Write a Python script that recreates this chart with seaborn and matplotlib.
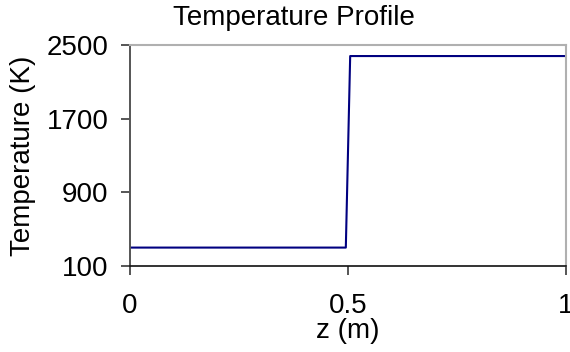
import matplotlib
matplotlib.use("Agg")
import matplotlib.pyplot as plt
import seaborn as sns
import pandas as pd

z = [0.0, 0.495, 0.505, 1.0]
temperature = [300, 300, 2380, 2380]
xticks = [0, 0.5, 1]
xticklabels = ["0", "0.5", "1"]
yticks = [100, 900, 1700, 2500]

sns.set_style("white")
plt.rcParams['font.family'] = ['Liberation Sans', 'DejaVu Sans']
plt.rcParams['text.color'] = 'black'
plt.rcParams['axes.labelcolor'] = 'black'
plt.rcParams['xtick.color'] = 'black'
plt.rcParams['ytick.color'] = 'black'

W, H = 570, 352
df = pd.DataFrame({"z": z, "T": temperature})
fig = plt.figure(figsize=(W/100, H/100), dpi=100)
ax = fig.add_axes([130/W, 1-266/H, 436/W, 221/H])
sns.lineplot(data=df, x="z", y="T", ax=ax, color="#000080", linewidth=1.5)
ax.set_xlim(0, 1)
ax.set_ylim(100, 2500)
ax.set_xticks(xticks)
ax.set_xticklabels(xticklabels)
ax.set_yticks(yticks)
ax.tick_params(axis='both', labelsize=20, direction='out', length=6.5, width=1.4,
               color='#555555', bottom=True, left=True, labelcolor='black')
ax.tick_params(axis='x', pad=13)
ax.tick_params(axis='y', pad=9)
ax.set_xlabel("z (m)", fontsize=20, color='black')
ax.xaxis.set_label_coords(0.5, (266-331)/221)
ax.xaxis.label.set_va('center')
ax.set_ylabel("Temperature (K)", fontsize=20, color='black')
ax.yaxis.set_label_coords((23-130)/436, 0.5)
ax.yaxis.label.set_va('center')
ax.yaxis.label.set_ha('center')
for s in ['top', 'right']:
    ax.spines[s].set_color('#b0b0b0')
    ax.spines[s].set_linewidth(1.5)
ax.spines['left'].set_color('#555555')
ax.spines['left'].set_linewidth(1.4)
ax.spines['bottom'].set_color('#111111')
ax.spines['bottom'].set_linewidth(1.2)
fig.text(294/W, 1-18/H, "Temperature Profile", fontsize=20, ha='center', va='center', color='black')
fig.savefig("out.png", dpi=100)
